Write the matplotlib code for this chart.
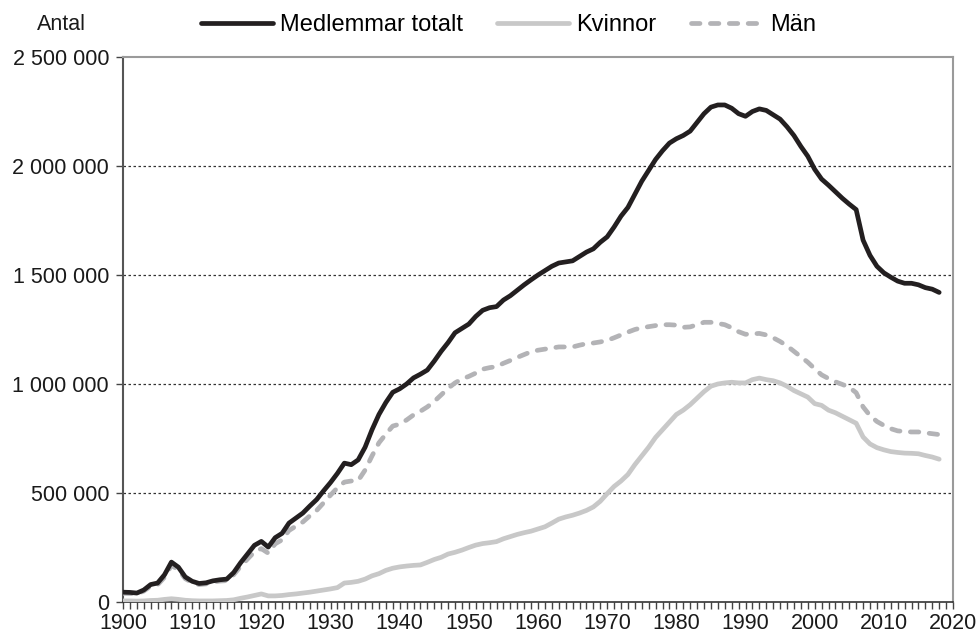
import matplotlib.pyplot as plt
from matplotlib.ticker import MultipleLocator, FuncFormatter

plt.rcParams["font.family"] = ["Liberation Sans", "DejaVu Sans"]

years = list(range(1900, 2019))

# members, thousands
totalt = [
    45, 44, 41, 55, 80, 87, 125, 183, 160, 115,
    95, 85, 88, 97, 102, 105, 135, 180, 220, 260,
    278, 252, 295, 315, 362, 385, 408, 440, 470, 510,
    548, 590, 637, 630, 652, 710, 790, 860, 915, 962,
    978, 1000, 1028, 1045, 1064, 1105, 1150, 1190, 1235, 1255,
    1275, 1310, 1338, 1350, 1355, 1385, 1405, 1430, 1455, 1478,
    1500, 1520, 1540, 1555, 1560, 1565, 1585, 1605, 1620, 1650,
    1675, 1720, 1770, 1810, 1870, 1930, 1980, 2030, 2070, 2105,
    2125, 2140, 2160, 2200, 2240, 2270, 2280, 2280, 2265, 2240,
    2228, 2250, 2262, 2255, 2235, 2215, 2180, 2140, 2090, 2045,
    1985, 1940, 1912, 1882, 1852, 1825, 1800, 1660, 1590, 1540,
    1510, 1490, 1472, 1462, 1462, 1455, 1442, 1435, 1420,
]

kvinnor = [
    5, 5, 4, 5, 7, 8, 12, 15, 12, 8,
    6, 5, 5, 5, 6, 7, 10, 17, 23, 30,
    37, 28, 28, 30, 34, 37, 41, 45, 50, 55,
    60, 66, 87, 90, 95, 105, 120, 130, 145, 155,
    161, 165, 168, 170, 182, 195, 205, 220, 228, 238,
    250, 261, 268, 272, 277, 290, 300, 310, 318, 325,
    335, 345, 362, 380, 390, 398, 408, 420, 436, 462,
    497, 530, 555, 585, 630, 670, 710, 755, 790, 825,
    860, 880, 905, 935, 965, 990, 1000, 1005, 1008, 1005,
    1005, 1020, 1027, 1020, 1015, 1005, 990, 970, 955, 940,
    910, 902, 880, 868, 852, 836, 820, 757, 725, 708,
    698, 690, 686, 683, 682, 680, 672, 665, 655,
]

man = [
    40, 39, 37, 50, 73, 79, 113, 168, 148, 107,
    89, 80, 83, 92, 96, 98, 125, 163, 197, 230,
    245, 224, 267, 285, 328, 348, 367, 395, 420, 455,
    490, 524, 550, 555, 557, 605, 670, 730, 770, 807,
    816, 835, 858, 875, 895, 920, 950, 980, 1005, 1023,
    1035, 1050, 1068, 1075, 1080, 1095, 1108, 1122, 1135, 1148,
    1155, 1160, 1165, 1170, 1170, 1170, 1178, 1185, 1188, 1193,
    1200, 1212, 1225, 1238, 1250, 1258, 1263, 1268, 1272, 1272,
    1270, 1260, 1262, 1272, 1283, 1283, 1278, 1272, 1258, 1240,
    1228, 1230, 1232, 1225, 1212, 1195, 1175, 1150, 1125, 1100,
    1070, 1042, 1025, 1010, 998, 985, 960, 895, 855, 828,
    810, 795, 785, 782, 780, 780, 776, 772, 768,
]

labels = ["Medlemmar totalt", "Kvinnor", "Män"]


def fmt_antal(v, pos):
    return f"{int(v):,}".replace(",", " ")


fig = plt.figure(figsize=(9.76, 6.37), dpi=100)
ax = fig.add_axes([123 / 976, 1 - 602 / 637, 830 / 976, 545 / 637])

ax.plot(years, [v * 1000 for v in totalt], color="#231f20", lw=3.4,
        solid_capstyle="round", label=labels[0], zorder=4)
ax.plot(years, [v * 1000 for v in kvinnor], color="#c8c8c8", lw=3.4,
        solid_capstyle="round", label=labels[1], zorder=3)
ax.plot(years, [v * 1000 for v in man], color="#b3b3b6", lw=3.4,
        dashes=(1.8, 2.2), dash_capstyle="round", label=labels[2], zorder=3)

ax.set_xlim(1900, 2020)
ax.set_ylim(0, 2500000)
ax.xaxis.set_major_locator(MultipleLocator(10))
ax.xaxis.set_minor_locator(MultipleLocator(1))
ax.yaxis.set_major_locator(MultipleLocator(500000))
ax.yaxis.set_major_formatter(FuncFormatter(fmt_antal))

for y in [500000, 1000000, 1500000, 2000000]:
    ax.axhline(y, color="#333333", lw=0.9, ls=(0, (2, 2)), zorder=1)

ax.tick_params(axis="both", which="both", direction="out", length=5,
               width=1, color="#444444", labelsize=15.5, labelcolor="#1a1a1a")
ax.tick_params(axis="x", pad=3)
ax.tick_params(axis="y", pad=5)

ax.spines["top"].set_color("#9a9a9a")
ax.spines["right"].set_color("#9a9a9a")
ax.spines["top"].set_linewidth(1.5)
ax.spines["right"].set_linewidth(1.5)
ax.spines["left"].set_color("#555555")
ax.spines["left"].set_linewidth(1.5)
ax.spines["bottom"].set_color("#333333")
ax.spines["bottom"].set_linewidth(1.2)

fig.text(37 / 976, 1 - 25 / 637, "Antal", fontsize=15.5, va="center",
         ha="left", color="#1a1a1a")

fig.legend(loc="center left", bbox_to_anchor=(201 / 976, 1 - 25 / 637),
           ncol=3, frameon=False, fontsize=17, handlelength=3.05,
           handletextpad=0.3, columnspacing=1.45, borderpad=0,
           borderaxespad=0)

fig.savefig("out.png", dpi=100)
